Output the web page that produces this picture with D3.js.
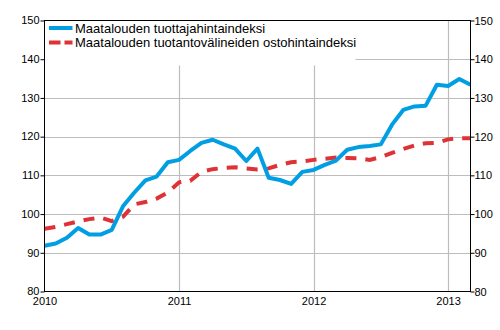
<!DOCTYPE html>
<html>
<head>
<meta charset="utf-8">
<script src="https://cdn.jsdelivr.net/npm/d3@7"></script>
<style>
  html, body { margin: 0; padding: 0; background: #fff; }
  svg { display: block; font-family: "Liberation Sans", Arial, sans-serif; }
</style>
</head>
<body>
<svg id="chart" width="500" height="330"></svg>
<script>
// Monthly data, Jan 2010 – Mar 2013
const startYear = 2010;
const seriesNames = [
  "Maatalouden tuottajahintaindeksi",
  "Maatalouden tuotantovälineiden ostohintaindeksi"
];
const producerIndex = [
  91.8, 92.4, 93.9, 96.4, 94.7, 94.7, 95.9, 102.0, 105.5, 108.7, 109.7, 113.4,
  114.0, 116.3, 118.4, 119.2, 118.0, 116.9, 113.7, 116.9, 109.4, 108.8, 107.8, 110.9,
  111.4, 112.7, 113.8, 116.6, 117.3, 117.6, 118.0, 123.1, 126.9, 127.8, 128.0, 133.4,
  133.1, 134.9, 133.4
];
const inputIndex = [
  96.2, 96.7, 97.4, 98.1, 98.7, 99.1, 98.2, 99.3, 102.5, 103.1, 104.0, 105.6,
  108.2, 108.6, 110.9, 111.6, 111.9, 112.1, 111.8, 111.5, 111.8, 112.7, 113.4, 113.6,
  114.0, 114.3, 114.6, 114.5, 114.4, 114.0, 114.7, 115.8, 116.8, 117.7, 118.3, 118.4,
  119.3, 119.6, 119.6
];
const yTicks = [80, 90, 100, 110, 120, 130, 140, 150];
const yearLabels = ["2010", "2011", "2012", "2013"];
const colors = ["#009fe3", "#de3237"];

const svg = d3.select("#chart");
const L = 44.5, R = 470.5, T = 20.5, B = 291.5;

const x = d3.scaleLinear().domain([0, producerIndex.length - 1]).range([L, R]);
const y = d3.scaleLinear().domain([80, 150]).range([B, T]);

// grid
const grid = svg.append("g").attr("stroke", "#bdbdbd").attr("stroke-width", 1.2);
yTicks.filter(v => v > 80 && v < 150).forEach(v => {
  grid.append("line").attr("x1", L).attr("x2", R)
    .attr("y1", Math.round(y(v)) + 0.5).attr("y2", Math.round(y(v)) + 0.5);
});
yearLabels.forEach((lab, i) => {
  if (i === 0) return;
  const xx = Math.round(x(i * 12)) + 0.5;
  grid.append("line").attr("x1", xx).attr("x2", xx).attr("y1", T).attr("y2", B);
});

// legend background
svg.append("rect").attr("x", L + 0.5).attr("y", T + 0.5)
  .attr("width", 355 - L).attr("height", 65 - T).attr("fill", "#fff");

// lines
const line = d3.line().x((d, i) => x(i)).y(d => y(d));
svg.append("path").datum(inputIndex).attr("d", line)
  .attr("fill", "none").attr("stroke", colors[1]).attr("stroke-width", 4)
  .attr("stroke-dasharray", "11,9");
svg.append("path").datum(producerIndex).attr("d", line)
  .attr("fill", "none").attr("stroke", colors[0]).attr("stroke-width", 4)
  .attr("stroke-linejoin", "round");

// frame
svg.append("rect").attr("x", L).attr("y", T).attr("width", R - L).attr("height", B - T)
  .attr("fill", "none").attr("stroke", "#000").attr("stroke-width", 1);

// axes
const yl = d3.axisLeft(y).tickValues(yTicks).tickSize(4).tickSizeOuter(0);
const yr = d3.axisRight(y).tickValues(yTicks).tickSize(4).tickSizeOuter(0);
const xb = d3.axisBottom(x).tickValues(yearLabels.map((d, i) => i * 12))
  .tickFormat((d, i) => yearLabels[i]).tickSize(0).tickSizeOuter(0);

function styleAxis(g) {
  g.select(".domain").remove();
  g.selectAll("text").attr("font-size", "11px").attr("fill", "#000")
    .attr("font-family", "'Liberation Sans', Arial, sans-serif");
  g.selectAll("line").attr("stroke", "#000");
}
svg.append("g").attr("transform", `translate(${L},0)`).call(yl).call(styleAxis)
  .selectAll("text").attr("x", -5).attr("dy", "0.3em");
svg.append("g").attr("transform", `translate(${R},0)`).call(yr).call(styleAxis)
  .selectAll("text").attr("x", 4);
svg.append("g").attr("transform", `translate(0,${B})`).call(xb).call(styleAxis)
  .selectAll("text").attr("y", 6);

// legend
const leg = svg.append("g");
const legY = [28, 42.5];
seriesNames.forEach((name, i) => {
  leg.append("line").attr("x1", 49).attr("x2", 72.5).attr("y1", legY[i]).attr("y2", legY[i])
    .attr("stroke", colors[i]).attr("stroke-width", 4)
    .attr("stroke-dasharray", i === 1 ? "11.5,4" : null);
  leg.append("text").attr("x", 75).attr("y", legY[i]).attr("dy", "0.35em")
    .attr("font-size", "13px").attr("fill", "#000").text(name);
});
</script>
</body>
</html>
